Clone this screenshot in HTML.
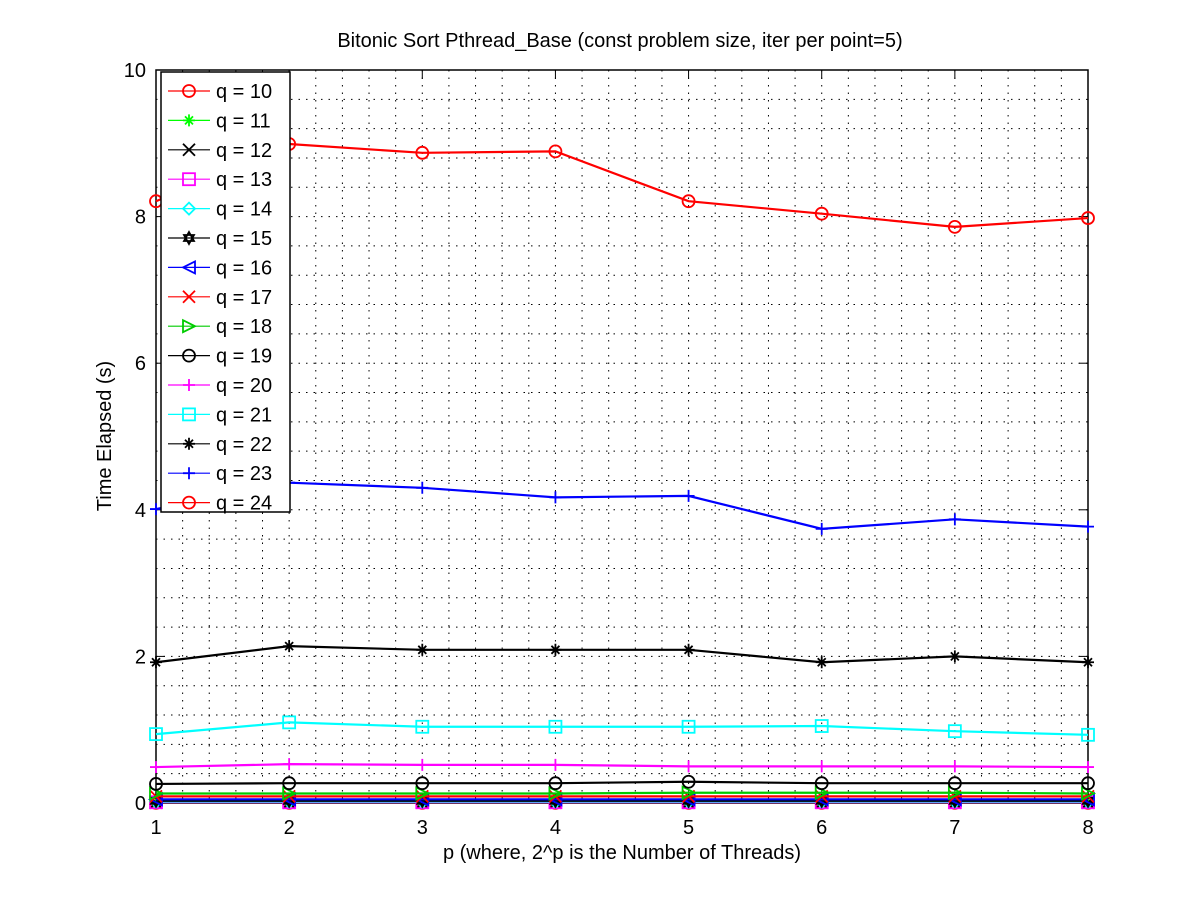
<!DOCTYPE html>
<html><head><meta charset="utf-8"><style>
body{margin:0;background:#fff}
svg text{font-family:"Liberation Sans",sans-serif}
</style></head><body>
<svg id="chart" width="1200" height="900" xmlns="http://www.w3.org/2000/svg"></svg>
<script>
const xValues=[1,2,3,4,5,6,7,8];
const seriesNames=["q = 10","q = 11","q = 12","q = 13","q = 14","q = 15","q = 16","q = 17","q = 18","q = 19","q = 20","q = 21","q = 22","q = 23","q = 24"];
const q10=[0.002,0.002,0.002,0.002,0.002,0.002,0.002,0.002];
const q11=[0.003,0.003,0.003,0.003,0.003,0.003,0.003,0.003];
const q12=[0.005,0.005,0.005,0.005,0.005,0.005,0.005,0.005];
const q13=[0.01,0.01,0.01,0.01,0.01,0.01,0.01,0.01];
const q14=[0.02,0.02,0.02,0.02,0.02,0.02,0.02,0.02];
const q15=[0.03,0.03,0.03,0.03,0.03,0.03,0.03,0.03];
const q16=[0.05,0.05,0.05,0.05,0.05,0.05,0.05,0.05];
const q17=[0.09,0.09,0.09,0.09,0.09,0.09,0.09,0.09];
const q18=[0.13,0.13,0.13,0.13,0.14,0.14,0.14,0.13];
const q19=[0.26,0.27,0.27,0.27,0.29,0.27,0.27,0.27];
const q20=[0.49,0.53,0.52,0.52,0.50,0.50,0.50,0.49];
const q21=[0.94,1.10,1.04,1.04,1.04,1.05,0.98,0.93];
const q22=[1.92,2.14,2.09,2.09,2.09,1.92,2.00,1.92];
const q23=[4.01,4.37,4.30,4.17,4.19,3.74,3.87,3.77];
const q24=[8.21,8.99,8.87,8.89,8.21,8.04,7.86,7.98];
const xTicks=[1,2,3,4,5,6,7,8];
const yTicks=[0,2,4,6,8,10];
const allSeries=[q10,q11,q12,q13,q14,q15,q16,q17,q18,q19,q20,q21,q22,q23,q24];
const colors=["#f00","#0f0","#000","#f0f","#0ff","#000","#00f","#f00","#0c0","#000","#f0f","#0ff","#000","#00f","#f00"];
const markers=["o","*","x","s","d","h","<","x",">","o","+","s","*","+","o"];
const L=156,R=1088,T=70,B=803;
const sx=v=>L+(v-1)/7*(R-L);
const sy=v=>B-v/10*(B-T);
const NS="http://www.w3.org/2000/svg";
const svg=document.getElementById('chart');
function mk(tag,attrs,parent){const e=document.createElementNS(NS,tag);for(const k in attrs)e.setAttribute(k,attrs[k]);(parent||svg).appendChild(e);return e;}
const grid=mk('g',{});


for(let i=1;i<35;i++){const x=L+i*(R-L)/35;mk('line',{x1:x,x2:x,y1:T,y2:B,stroke:'#000','stroke-width':1,'stroke-dasharray':'1.5,6'},grid);}
for(let i=1;i<25;i++){const y=B-i*(B-T)/25;mk('line',{x1:L,x2:R,y1:y,y2:y,stroke:'#000','stroke-width':1,'stroke-dasharray':'1.5,6'},grid);}
const box=mk('rect',{x:L,y:T,width:R-L,height:B-T,fill:'none',stroke:'#000','stroke-width':1.5});


xTicks.forEach(v=>{const x=sx(v);mk('line',{x1:x,x2:x,y1:B,y2:B-9,stroke:'#000'});mk('line',{x1:x,x2:x,y1:T,y2:T+9,stroke:'#000'});
const t=mk('text',{x:x,y:834,'font-size':20,'text-anchor':'middle'});t.textContent=v;

});
yTicks.forEach(v=>{const y=sy(v);mk('line',{x1:L,x2:L+9,y1:y,y2:y,stroke:'#000'});mk('line',{x1:R,x2:R-9,y1:y,y2:y,stroke:'#000'});
const t=mk('text',{x:146,y:y+7,'font-size':20,'text-anchor':'end'});t.textContent=v;

});
function marker(type,x,y,c,g){const s=6;const a={fill:'none',stroke:c,'stroke-width':1.8};
if(type=='o')mk('circle',Object.assign({cx:x,cy:y,r:s},a),g);
else if(type=='s')mk('rect',Object.assign({x:x-s,y:y-s,width:2*s,height:2*s},a),g);
else if(type=='d')mk('path',Object.assign({d:`M${x},${y-s}L${x+s},${y}L${x},${y+s}L${x-s},${y}Z`},a),g);
else if(type=='x')mk('path',Object.assign({d:`M${x-s},${y-s}L${x+s},${y+s}M${x-s},${y+s}L${x+s},${y-s}`},a),g);
else if(type=='+')mk('path',Object.assign({d:`M${x-s},${y}L${x+s},${y}M${x},${y-s}L${x},${y+s}`},a),g);
else if(type=='*')mk('path',Object.assign({d:`M${x-s},${y}L${x+s},${y}M${x},${y-s}L${x},${y+s}M${x-4},${y-4}L${x+4},${y+4}M${x-4},${y+4}L${x+4},${y-4}`},a),g);
else if(type=='<')mk('path',Object.assign({d:`M${x-s},${y}L${x+s},${y-s}L${x+s},${y+s}Z`},a),g);
else if(type=='>')mk('path',Object.assign({d:`M${x+s},${y}L${x-s},${y-s}L${x-s},${y+s}Z`},a),g);
else if(type=='h')mk('path',Object.assign({d:`M${x},${y-s}L${x+5},${y+3}L${x-5},${y+3}ZM${x},${y+s}L${x+5},${y-3}L${x-5},${y-3}Z`},a),g);}
allSeries.forEach((vals,i)=>{const g=mk('g',{});


mk('polyline',{points:vals.map((v,j)=>sx(xValues[j])+','+sy(v)).join(' '),fill:'none',stroke:colors[i],'stroke-width':2.2},g);
vals.forEach((v,j)=>marker(markers[i],sx(xValues[j]),sy(v),colors[i],g));});
const lg=mk('g',{});


mk('rect',{x:161,y:72,width:129,height:440,fill:'#fff',stroke:'#000','stroke-width':1.5},lg);
seriesNames.forEach((n,i)=>{const y=91+i*29.4;const e=mk('g',{},lg);


mk('line',{x1:168,x2:210,y1:y,y2:y,stroke:colors[i],'stroke-width':1.2},e);marker(markers[i],189,y,colors[i],e);
const t=mk('text',{x:216,y:y+7,'font-size':20},e);t.textContent=n;});
const title=mk('text',{x:620,y:47,'font-size':20,'text-anchor':'middle'});title.textContent='Bitonic Sort Pthread_Base (const problem size, iter per point=5)';


const xl=mk('text',{x:622,y:859,'font-size':20,'text-anchor':'middle'});xl.textContent='p (where, 2^p is the Number of Threads)';


const yl=mk('text',{x:0,y:0,'font-size':20,'text-anchor':'middle',transform:'translate(111,436) rotate(-90)'});yl.textContent='Time Elapsed (s)';


</script>
</body></html>
